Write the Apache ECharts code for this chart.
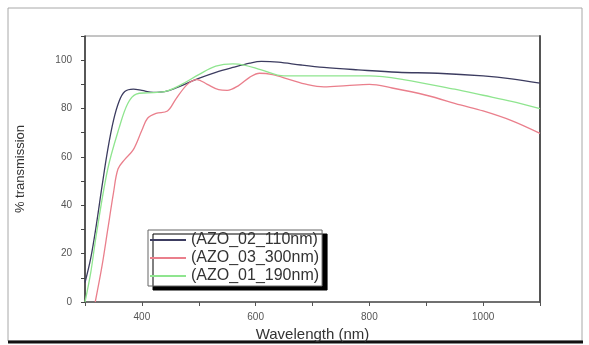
<!DOCTYPE html>
<html>
<head>
<meta charset="utf-8">
<script src="https://cdn.jsdelivr.net/npm/echarts@6/dist/echarts.min.js"></script>
<style>
  html, body { margin: 0; padding: 0; background: #fff; }
  #chart { width: 589px; height: 345px; }
</style>
</head>
<body>
<div id="chart"></div>
<script>
// wavelength (nm), % transmission
const azo02 = [
  [300, 8], [310, 18], [320, 32], [330, 48], [340, 63], [350, 75], [360, 83], [370, 87],
  [385, 88], [400, 87.5], [420, 86.7], [440, 87], [460, 88.5], [480, 90.5], [500, 92.5],
  [530, 95], [560, 97], [590, 98.8], [610, 99.5], [640, 99.2], [680, 98], [720, 97],
  [780, 96], [850, 95], [920, 94.6], [1000, 93.5], [1050, 92.3], [1100, 90.5]
];
const azo03 = [
  [318, 0], [330, 15], [340, 30], [350, 45], [358, 55], [370, 59], [385, 63], [400, 71],
  [410, 76], [425, 78], [445, 79], [460, 84], [480, 90], [497, 92], [515, 90], [535, 87.8],
  [550, 87.5], [570, 89.5], [590, 93], [607, 94.6], [630, 94], [660, 92], [690, 90],
  [720, 89], [760, 89.5], [800, 90], [840, 88.5], [900, 85.5], [960, 81.5], [1000, 79],
  [1050, 75], [1100, 69.7]
];
const azo01 = [
  [300, 0], [310, 12], [320, 28], [340, 55], [360, 72], [375, 82], [390, 86], [410, 86.5],
  [440, 87], [470, 90], [500, 94], [530, 97.5], [560, 98.5], [580, 98], [610, 96],
  [650, 93.5], [700, 93.5], [800, 93.5], [860, 92], [950, 88], [1000, 85.5], [1050, 83],
  [1100, 80]
];
const seriesNames = ['(AZO_02_110nm)', '(AZO_03_300nm)', '(AZO_01_190nm)'];
const xLabels = [400, 600, 800, 1000];
const yLabels = [0, 20, 40, 60, 80, 100];

const chart = echarts.init(document.getElementById('chart'));
const line = (name, data, color) => ({
  name, type: 'line', data, smooth: 0.35, showSymbol: false,
  lineStyle: { color, width: 1.3 }, itemStyle: { color }
});

chart.setOption({
  animation: false,
  textStyle: { fontFamily: 'Liberation Sans, Arial, sans-serif' },
  graphic: [
    { type: 'rect', shape: { x: 8, y: 8, width: 574, height: 333 },
      style: { fill: 'none', stroke: '#a8a8a8', lineWidth: 1 } },
    { type: 'line', shape: { x1: 8, y1: 342, x2: 583, y2: 342 },
      style: { stroke: '#111', lineWidth: 3 } }
  ],
  grid: {
    left: 85, right: 49, top: 36, bottom: 43, outerBoundsMode: 'none',
    show: true, borderColor: '#8a8a8a', borderWidth: 1
  },
  legend: {
    orient: 'vertical', left: 148, top: 230,
    data: seriesNames,
    itemWidth: 36, itemHeight: 2, itemGap: 2,
    icon: 'rect',
    padding: [2, 3, 2, 2],
    backgroundColor: '#fff', borderColor: '#666', borderWidth: 1,
    shadowColor: '#000', shadowOffsetX: 5, shadowOffsetY: 4, shadowBlur: 0.1,
    textStyle: { fontSize: 16, lineHeight: 13, color: '#333', padding: 0 }
  },
  xAxis: {
    type: 'value', min: 300, max: 1100, interval: 100,
    name: 'Wavelength (nm)', nameLocation: 'middle', nameGap: 18,
    nameTextStyle: { fontSize: 15, color: '#333' },
    axisLine: { lineStyle: { color: '#555', width: 1.5 } },
    axisTick: { show: true, length: 4, lineStyle: { color: '#555' } },
    axisLabel: { fontSize: 10, color: '#555', margin: 10,
      formatter: v => xLabels.includes(v) ? String(v) : '' },
    splitLine: { show: false }
  },
  yAxis: [{
    type: 'value', min: 0, max: 110, interval: 10,
    name: '% transmission', nameLocation: 'middle', nameGap: 58,
    nameTextStyle: { fontSize: 13, color: '#333' },
    axisLine: { show: true, lineStyle: { color: '#333', width: 1.5 } },
    axisTick: { show: true, length: 4, lineStyle: { color: '#444' } },
    axisLabel: { fontSize: 10, color: '#555', margin: 13,
      formatter: v => yLabels.includes(v) ? String(v) : '' },
    splitLine: { show: false }
  }, {
    type: 'value', min: 0, max: 110, position: 'right',
    axisLine: { show: true, lineStyle: { color: '#555', width: 2 } },
    axisTick: { show: false }, axisLabel: { show: false }, splitLine: { show: false }
  }],
  series: [
    line(seriesNames[0], azo02, '#3c3c60'),
    line(seriesNames[1], azo03, '#ea7f8c'),
    line(seriesNames[2], azo01, '#8fe58f')
  ]
});
</script>
</body>
</html>
